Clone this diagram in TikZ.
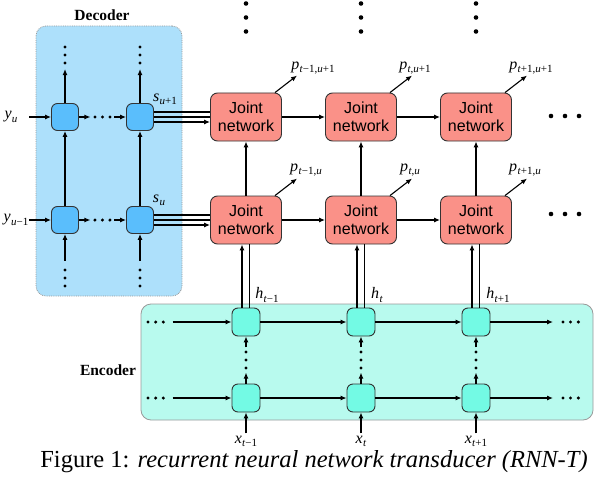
\documentclass[tikz,border=0pt]{standalone}
\usepackage{fontspec}
\setmainfont{Liberation Serif}
\newfontfamily\jsans{Liberation Sans}
\usetikzlibrary{arrows.meta,calc}
\definecolor{decbg}{RGB}{173,224,251}
\definecolor{decnodec}{RGB}{90,190,252}
\definecolor{encbg}{RGB}{184,250,238}
\definecolor{encnodec}{RGB}{115,250,228}
\definecolor{jointc}{RGB}{250,145,136}
\newcommand\lbl[2]{\textit{#1}\kern0.3pt\raisebox{-3.2pt}{\fontsize{11}{11}\selectfont #2}}
\newcommand\tv{\textit{t}}
\newcommand\uv{\textit{u}}
\tikzset{
  decnode/.style={draw=black!80, fill=decnodec, rounded corners=6pt, minimum width=27pt, minimum height=27pt, line width=0.9pt, inner sep=0pt},
  encnode/.style={draw=black!80, fill=encnodec, rounded corners=6pt, minimum width=28pt, minimum height=28pt, line width=0.9pt, inner sep=0pt},
  joint/.style={draw=black!80, fill=jointc, rounded corners=7pt, minimum width=71pt, minimum height=48pt, line width=0.9pt, align=center, inner sep=0pt, font=\jsans\fontsize{16}{17.5}\selectfont},
  bigdot/.style={circle, fill=black, inner sep=0pt, minimum size=4.6pt},
  smalldot/.style={circle, fill=black, inner sep=0pt, minimum size=3.4pt},
  lab/.style={inner sep=0pt, font=\fontsize{16}{18}\selectfont},
  boxlabel/.style={inner sep=0pt, font=\bfseries\fontsize{15.5}{17}\selectfont},
  conn/.style={line width=1.1pt},
  arr/.style={line width=1.1pt, -{Latex[length=6pt,width=5pt]}},
}
\begin{document}
\begin{tikzpicture}[x=1pt,y=-1pt]
\useasboundingbox (0,0) rectangle (596,476);
% background boxes
\node (decbox) [draw=gray!80, densely dotted, fill=decbg, rounded corners=10pt, minimum width=146pt, minimum height=270pt, line width=0.8pt] at (109,161) {};
\node (encbox) [draw=gray!80, fill=encbg, rounded corners=10pt, minimum width=452pt, minimum height=116pt, line width=0.8pt] at (367,362) {};
\node (declabel) [boxlabel] at (102,15) {Decoder};
\node (enclabel) [boxlabel] at (108,370) {Encoder};

% decoder nodes
\node (d11) [decnode] at (65,117) {};
\node (d12) [decnode] at (140,117) {};
\node (d21) [decnode] at (65,220) {};
\node (d22) [decnode] at (140,220) {};

% joint and encoder nodes
\foreach \c/\x in {1/246,2/361,3/476}{
  \node (j1\c) [joint] at (\x,117) {Joint\\network};
  \node (j2\c) [joint] at (\x,220) {Joint\\network};
  \node (e1\c) [encnode] at (\x,322) {};
  \node (e2\c) [encnode] at (\x,398) {};
}

% decoder inputs
\node (yu) [lab] at (11,117) {\lbl{y}{\uv}};
\node (yum) [lab] at (16,220) {\lbl{y}{\uv−1}};
\draw[arr] ($(d11.west)+(-22,0)$) -- (d11.west);
\draw[arr] ($(d21.west)+(-22,0)$) -- (d21.west);

% decoder horizontal
\foreach \r in {1,2}{
  \draw[arr] (d\r1.east) -- ++(11.5,0);
  \node (hd\r a) [smalldot] at ($(d\r1.east)+(16,0)$) {};
  \node (hd\r b) [smalldot] at ($(d\r1.east)+(23.5,0)$) {};
  \node (hd\r c) [smalldot] at ($(d\r1.east)+(31,0)$) {};
  \draw[arr] ($(d\r2.west)+(-12,0)$) -- (d\r2.west);
}
% decoder vertical
\foreach \c/\x in {1/65,2/140}{
  \draw[arr] (d1\c.north) -- ++(0,-34);
  \node (vt\c a) [smalldot] at (\x,47) {};
  \node (vt\c b) [smalldot] at (\x,55) {};
  \node (vt\c c) [smalldot] at (\x,63) {};
  \draw[arr] (d2\c.north) -- (d1\c.south);
  \draw[arr] ($(d2\c.south)+(0,27)$) -- (d2\c.south);
  \node (vb\c a) [smalldot] at (\x,270) {};
  \node (vb\c b) [smalldot] at (\x,278) {};
  \node (vb\c c) [smalldot] at (\x,286) {};
}
% decoder to joint (three lines)
\foreach \r in {1,2}{
  \draw[conn] ($(d\r2.east)+(0,-5)$) -- ($(j\r1.west)+(0,-5)$);
  \draw[conn] (d\r2.east) -- (j\r1.west);
  \draw[arr] ($(d\r2.east)+(0,5)$) -- ($(j\r1.west)+(0,5)$);
}
\node (su1) [lab] at (165,99) {\lbl{s}{\uv+1}};
\node (su) [lab] at (159,200) {\lbl{s}{\uv}};

% joint horizontal and vertical
\foreach \r in {1,2}{
  \draw[arr] (j\r1.east) -- (j\r2.west);
  \draw[arr] (j\r2.east) -- (j\r3.west);
}
\foreach \c in {1,2,3}{
  \draw[arr] (j2\c.north) -- (j1\c.south);
  \draw[arr] ($(j1\c.north)+(29,0)$) -- ++(22,-17);
  \draw[arr] ($(j2\c.north)+(29,0)$) -- ++(22,-17);
}
\node (p11) [lab] at (313,68) {\lbl{p}{\tv−1,\uv+1}};
\node (p12) [lab] at (415,68) {\lbl{p}{\tv,\uv+1}};
\node (p13) [lab] at (531,68) {\lbl{p}{\tv+1,\uv+1}};
\node (p21) [lab] at (306,170) {\lbl{p}{\tv−1,\uv}};
\node (p22) [lab] at (410,170) {\lbl{p}{\tv,\uv}};
\node (p23) [lab] at (525,170) {\lbl{p}{\tv+1,\uv}};

% top dots and right dots
\foreach \c/\x in {1/246,2/361,3/476}{
  \node (td\c a) [bigdot] at (\x,3.5) {};
  \node (td\c b) [bigdot] at (\x,17.5) {};
  \node (td\c c) [bigdot] at (\x,31.5) {};
}
\foreach \r/\y in {1/116,2/214}{
  \node (rd\r a) [bigdot] at (551,\y) {};
  \node (rd\r b) [bigdot] at (565,\y) {};
  \node (rd\r c) [bigdot] at (579,\y) {};
}

% encoder to joint
\foreach \c in {1,2,3}{
  \draw[arr] ($(e1\c.north)+(-4,0)$) -- ($(j2\c.south)+(-4,0)$);
  \draw[conn] ($(e1\c.north)+(3.5,0)$) -- ($(j2\c.south)+(3.5,0)$);
}
\node (h1) [lab] at (267,295) {\lbl{h}{\tv−1}};
\node (h2) [lab] at (377,295) {\lbl{h}{\tv}};
\node (h3) [lab] at (498,295) {\lbl{h}{\tv+1}};

% encoder horizontal
\foreach \r/\y in {1/322,2/398}{
  \node (el\r a) [smalldot] at (148,\y) {};
  \node (el\r b) [smalldot] at (155.7,\y) {};
  \node (el\r c) [smalldot] at (163.3,\y) {};
  \draw[arr] ($(e\r1.west)+(-59,0)$) -- (e\r1.west);
  \draw[arr] (e\r1.east) -- (e\r2.west);
  \draw[arr] (e\r2.east) -- (e\r3.west);
  \draw[arr] (e\r3.east) -- (553,\y);
  \node (er\r a) [smalldot] at (563,\y) {};
  \node (er\r b) [smalldot] at (570.5,\y) {};
  \node (er\r c) [smalldot] at (578.3,\y) {};
}
% encoder vertical
\foreach \c/\x in {1/246,2/361,3/476}{
  \draw[arr] (e2\c.north) -- ++(0,-11);
  \node (ev\c a) [smalldot] at (\x,352) {};
  \node (ev\c b) [smalldot] at (\x,360) {};
  \node (ev\c c) [smalldot] at (\x,368) {};
  \draw[arr] ($(e1\c.south)+(0,11)$) -- (e1\c.south);
  \draw[arr] ($(e2\c.south)+(0,21)$) -- (e2\c.south);
}
\node (x1) [lab] at (246,441) {\lbl{x}{\tv−1}};
\node (x2) [lab] at (361,441) {\lbl{x}{\tv}};
\node (x3) [lab] at (476,441) {\lbl{x}{\tv+1}};

% caption
\node (cap) [inner sep=0pt, font=\fontsize{24.5}{26}\selectfont] at (314,462) {Figure 1: \textit{recurrent neural network transducer (RNN-T)}};
\end{tikzpicture}
\end{document}
